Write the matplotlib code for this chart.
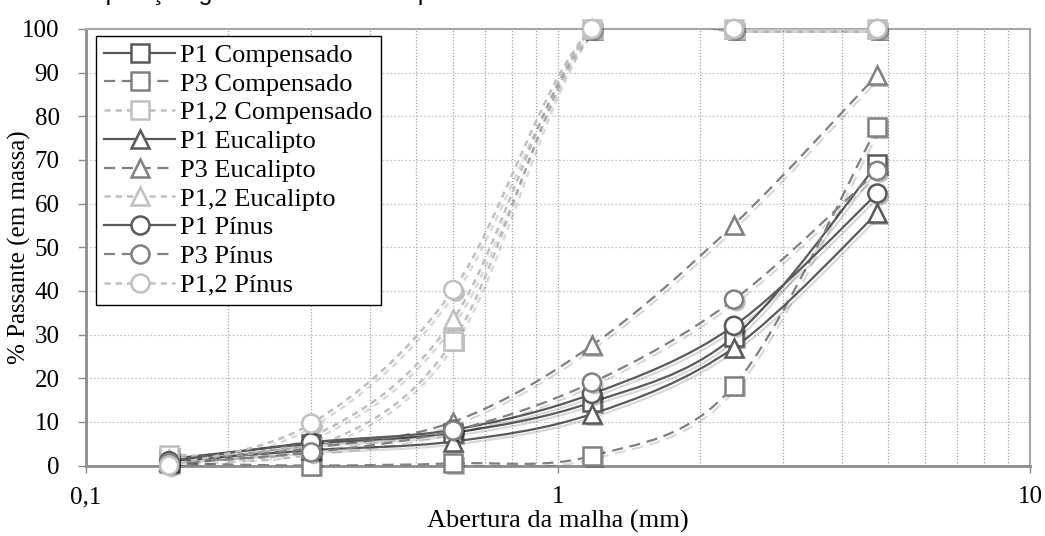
import numpy as np
import matplotlib
matplotlib.use("Agg")
import matplotlib.pyplot as plt
import matplotlib.patheffects as pe
from matplotlib.path import Path
from matplotlib.patches import PathPatch
from matplotlib.lines import Line2D
from matplotlib.ticker import FixedLocator, LogLocator, NullFormatter

# abertura das peneiras (mm)
aberturas = [0.15, 0.3, 0.6, 1.18, 2.36, 4.75]

# % passante
p1_comp = [1.5, 5.0, 7.5, 14.5, 29.5, 69.0]
p3_comp = [0.5, 0.0, 0.5, 2.2, 18.3, 77.6]
p12_comp = [2.5, 4.0, 28.6, 100, 100, 100]
p1_euc = [1.0, 3.5, 5.5, 11.8, 27.0, 57.8]
p3_euc = [1.0, 4.0, 10.0, 27.5, 55.2, 89.5]
p12_euc = [1.5, 6.5, 33.5, 100, 100, 100]
p1_pin = [1.0, 5.3, 8.2, 16.4, 32.0, 62.3]
p3_pin = [0.5, 3.0, 8.0, 19.0, 38.0, 67.5]
p12_pin = [0.0, 9.6, 40.2, 100, 100, 100]

nomes = ["P1 Compensado", "P3 Compensado", "P1,2 Compensado",
         "P1 Eucalipto", "P3 Eucalipto", "P1,2 Eucalipto",
         "P1 Pínus", "P3 Pínus", "P1,2 Pínus"]
series = [p1_comp, p3_comp, p12_comp, p1_euc, p3_euc, p12_euc,
          p1_pin, p3_pin, p12_pin]
marcadores = ["s", "s", "s", "^", "^", "^", "o", "o", "o"]

# estilo por ensaio: P1 solido, P3 tracejado longo, P1,2 tracejado curto
cores = {"P1": "#595959", "P3": "#808080", "P1,2": "#bfbfbf"}
tracos = {"P1": "-", "P3": (0, (5, 3)), "P1,2": (0, (2.5, 2))}
larguras = {"P1": 1.6, "P3": 1.6, "P1,2": 1.8}


def curva_suave(x, y):
    # bezier tipo "linha suavizada" do Excel, calculada no espaco log(x)
    pts = np.column_stack([np.log10(x), y]).astype(float)
    verts = [pts[0]]
    codes = [Path.MOVETO]
    n = len(pts)
    for i in range(n - 1):
        a = pts[i - 1] if i > 0 else pts[i]
        d = pts[i + 2] if i + 2 < n else pts[i + 1]
        c1 = pts[i] + (pts[i + 1] - a) / 6.0
        c2 = pts[i + 1] - (d - pts[i]) / 6.0
        verts += [c1, c2, pts[i + 1]]
        codes += [Path.CURVE4] * 3
    verts = np.array(verts)
    verts[:, 0] = 10 ** verts[:, 0]
    return Path(verts, codes)


plt.rcParams['font.family'] = ['Liberation Serif', 'DejaVu Serif']

fig = plt.figure(figsize=(10.45, 5.36), dpi=100)
ax = fig.add_axes([0.0823, 0.1315, 0.9033, 0.8145])

sombra = [pe.SimplePatchShadow(offset=(2, -2), shadow_rgbFace='k', alpha=0.25),
          pe.Normal()]
sombra_linha = [pe.SimpleLineShadow(offset=(2, -2), shadow_color='k', alpha=0.15),
                pe.Normal()]

handles = []
for nome, ys, mk in zip(nomes, series, marcadores):
    ens = nome.split(" ")[0]
    cor = cores[ens]
    patch = PathPatch(curva_suave(aberturas, ys), fill=False, edgecolor=cor,
                      linewidth=larguras[ens], linestyle=tracos[ens],
                      capstyle='butt', zorder=3)
    patch.set_path_effects(sombra_linha)
    ax.add_patch(patch)
    ax.plot(aberturas, ys, linestyle='none', marker=mk, markersize=13,
            markerfacecolor='white', markeredgecolor=cor, markeredgewidth=1.8,
            clip_on=False, zorder=4, path_effects=sombra)
    handles.append(Line2D([], [], color=cor, linestyle=tracos[ens],
                          linewidth=larguras[ens], marker=mk, markersize=13,
                          markerfacecolor='white', markeredgecolor=cor,
                          markeredgewidth=1.8))

ax.set_xscale('log')
ax.set_xlim(0.1, 10)
ax.set_ylim(0, 100)
ax.set_yticks(np.arange(0, 101, 10))
ax.xaxis.set_major_locator(FixedLocator([0.1, 1, 10]))
ax.set_xticklabels(["0,1", "1", "10"])
ax.xaxis.set_minor_locator(LogLocator(base=10, subs=np.arange(2, 10)))
ax.xaxis.set_minor_formatter(NullFormatter())

ax.grid(True, which='major', axis='y', color='#c8c8c8', linestyle=(0, (1.5, 1.5)), linewidth=0.9)
ax.grid(True, which='both', axis='x', color='#a0a0a0', linestyle=(0, (1, 1.5)), linewidth=0.9)
ax.set_axisbelow(True)

for lado in ['top', 'right']:
    ax.spines[lado].set_color('#a6a6a6')
    ax.spines[lado].set_linewidth(1.5)
for lado in ['left', 'bottom']:
    ax.spines[lado].set_color('#8c8c8c')
    ax.spines[lado].set_linewidth(2.0)

ax.tick_params(axis='y', which='major', length=6, width=1, color='#8c8c8c',
               labelsize=18, pad=13)
ax.tick_params(axis='x', which='major', length=5, width=1, color='#8c8c8c',
               labelsize=18, pad=10)
ax.tick_params(axis='x', which='minor', length=0)

ax.set_xlabel("Abertura da malha (mm)", fontsize=19, labelpad=1)
ax.set_ylabel("% Passante (em massa)", fontsize=18)
ax.yaxis.set_label_coords(-0.058, 0.5)

leg = ax.legend(handles, nomes, loc='upper left', fontsize=19,
                bbox_to_anchor=(0.005, 0.997), frameon=True, fancybox=False,
                edgecolor='black', framealpha=1, labelspacing=0.2,
                handlelength=2.7, handletextpad=0.2, borderpad=0.3,
                borderaxespad=0.2)
leg.get_frame().set_linewidth(1.0)
leg.set_zorder(10)

# titulo cortado no topo da imagem
fig.text(0.0507, 1.0, "Composição granulométrica das partículas",
         fontsize=18, family=['Liberation Sans', 'DejaVu Sans'],
         va='baseline', ha='left')

fig.savefig("out.png", dpi=100)
